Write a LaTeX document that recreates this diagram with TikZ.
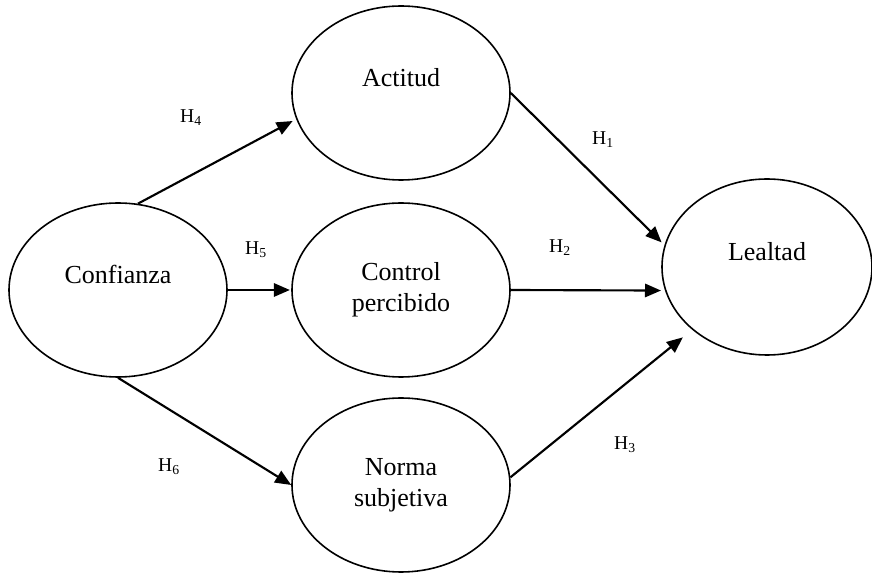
\documentclass[tikz,border=0pt]{standalone}
\usepackage{fontspec}
\setmainfont{Liberation Serif}
\usetikzlibrary{arrows.meta,shapes.geometric}

\tikzset{
  construct/.style={ellipse, draw, line width=1.2pt, inner sep=0pt,
    minimum width=163.5pt, minimum height=130.5pt, align=center,
    font=\fontsize{19.5}{23.4}\selectfont},
  hypo/.style={line width=1.6pt, -{Triangle[length=12pt,width=10pt]}, shorten >=3pt},
  hlabel/.style={anchor=base, inner sep=0pt, font=\fontsize{14.7}{17}\selectfont}
}

\begin{document}
\begin{tikzpicture}[x=0.75pt, y=-0.75pt]
\useasboundingbox (0,0) rectangle (872,573);
\node[name=confianza, construct] at (118,290) {Confianza\\\phantom{x}};
\node[name=actitud, construct] at (401,93) {Actitud\\\phantom{x}};
\node[name=control, construct] at (401,290) {Control\\percibido};
\node[name=norma, construct] at (401,485) {Norma\\subjetiva};
\node[name=lealtad, construct, minimum width=157.5pt, minimum height=132pt] at (767,267) {Lealtad\\\phantom{x}};
\foreach \start/\finish/\gap in {confianza.77/actitud.194/3pt, confianza.east/control.west/1pt, confianza.south/norma.west/0pt, actitud.east/lealtad.168/3pt, control.east/lealtad.193/3pt, norma.4/lealtad.220/9pt}
  \draw[hypo, shorten >=\gap] (\start) -- (\finish);
\foreach \num/\x/\y in {1/603/145, 2/560/253, 3/625/450, 4/191/123, 5/256/255, 6/169/472}
  \node[name=h\num, hlabel] at (\x,\y) {H\textsubscript{\num}};
\end{tikzpicture}
\end{document}
